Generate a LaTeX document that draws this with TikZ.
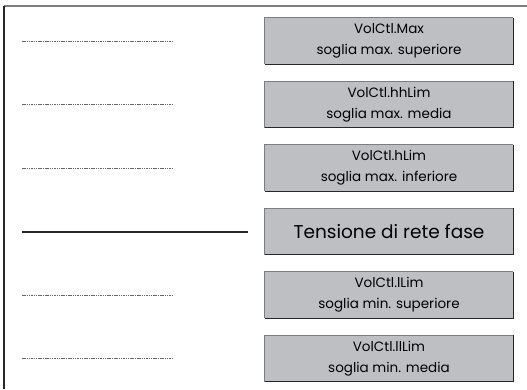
\documentclass[tikz,border=0pt]{standalone}
\usepackage{fontspec}
\setmainfont{Poppins}
\definecolor{boxgray}{RGB}{190,191,195}
\definecolor{edgegray}{RGB}{125,125,125}
\tikzset{
  limbox/.style={fill=boxgray,minimum width=248pt,minimum height=46pt,
    inner sep=0pt,align=center,font=\fontsize{13.5}{21}\selectfont},
  dotline/.style={black!60,line width=1pt,dash pattern=on 1.5pt off 0.8pt}
}
\begin{document}
\begin{tikzpicture}[x=1pt,y=-1pt]
      \useasboundingbox (0,0) rectangle (527,389);
      % frame
      \draw[edgegray,line width=1.2pt] (3.5,6) -- (527,6);
      \draw[black!85,line width=1.2pt] (4,6) -- (4,389);
      % limit boxes
      \foreach\y/\name/\txt in {41/max/{VolCtl.Max\\soglia max. superiore},
          104.5/hhlim/{VolCtl.hhLim\\soglia max. media},
          168/hlim/{VolCtl.hLim\\soglia max. inferiore},
          295/llim/{VolCtl.lLim\\soglia min. superiore},
          358.5/lllim/{VolCtl.llLim\\soglia min. media}}{
        \node[limbox] (\name) at (389,\y) {\txt};
        \draw[dotline] (22,\y)--(172,\y);
      }
      \node[limbox,font=\fontsize{18.5}{21}\selectfont] (rete) at (389,231.5) {Tensione di rete fase};
      \draw[black!85,line width=2pt] (22,231.5)--(248,231.5);
      % shaded edges
      \foreach\name in {max,hhlim,hlim,rete,llim,lllim}{
        \draw[edgegray,line width=1pt] (\name.south west) |- (\name.north east);
        \draw[black!85,line width=1pt] (\name.north east) |- (\name.south west);
      }
    \end{tikzpicture}
\end{document}
